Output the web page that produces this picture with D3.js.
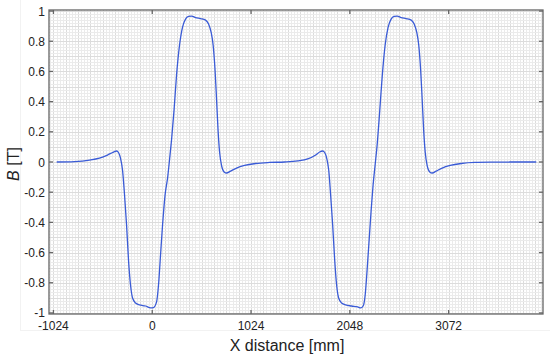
<!DOCTYPE html>
<html>
<head>
<meta charset="utf-8">
<script src="https://cdn.jsdelivr.net/npm/d3@7"></script>
<style>
  body { margin: 0; background: #fff; }
  text { font-family: "Liberation Sans", Arial, sans-serif; fill: #222; }
</style>
</head>
<body>
<svg width="550" height="358"></svg>
<script>
// x distance in mm, B in tesla
let xs = [-990, -806, -650, -547, -464, -401, -370, -350, -329, -308, -287, -266, -246, -225, -204,
    -173, -132, -69, -18, 13, 45, 65, 86, 107, 133, 159, 179, 200, 226, 252, 283, 314, 345, 376,
    408, 449, 501, 553, 584, 610, 631, 651, 667, 682, 698, 719, 745, 770, 812, 874, 957, 1071,
    1216, 1372, 1507, 1611, 1694, 1735, 1766, 1787, 1808, 1829, 1849, 1870, 1891, 1911, 1932,
    1963, 2005, 2067, 2129, 2160, 2186, 2207, 2227, 2248, 2269, 2289, 2310, 2331, 2357, 2383,
    2414, 2445, 2476, 2507, 2539, 2580, 2632, 2684, 2715, 2741, 2762, 2782, 2798, 2813, 2829,
    2850, 2876, 2902, 2943, 3005, 3088, 3202, 3342, 3550, 3809, 3980]
let bs = [0, 0.003, 0.013, 0.026, 0.046, 0.066, 0.073, 0.063, 0.026, -0.053, -0.219, -0.417, -0.649,
    -0.815, -0.901, -0.934, -0.947, -0.954, -0.967, -0.964, -0.927, -0.815, -0.616, -0.417, -0.219,
    -0.106, 0.013, 0.146, 0.344, 0.576, 0.775, 0.894, 0.947, 0.964, 0.967, 0.957, 0.950, 0.940,
    0.914, 0.861, 0.775, 0.609, 0.411, 0.212, 0.066, -0.026, -0.066, -0.073, -0.060, -0.040, -0.023,
    -0.010, -0.003, 0, 0.007, 0.020, 0.046, 0.066, 0.073, 0.063, 0.026, -0.053, -0.219, -0.417,
    -0.649, -0.815, -0.901, -0.934, -0.947, -0.954, -0.960, -0.967, -0.954, -0.881, -0.715, -0.517,
    -0.318, -0.152, -0.020, 0.113, 0.331, 0.563, 0.775, 0.894, 0.947, 0.964, 0.967, 0.957, 0.950,
    0.940, 0.914, 0.861, 0.775, 0.609, 0.411, 0.212, 0.066, -0.026, -0.066, -0.073, -0.060, -0.040,
    -0.023, -0.010, -0.003, -0.001, 0, 0]
let xTicks = [-1024, 0, 1024, 2048, 3072]
let yTicks = [-1, -0.8, -0.6, -0.4, -0.2, 0, 0.2, 0.4, 0.6, 0.8, 1]

let data = xs.map((d, i) => ({ x: d, b: bs[i] }))

let plotLeft = 49, plotRight = 543, plotTop = 10, plotBottom = 314

let x = d3.scaleLinear().domain([-1070, 4050]).range([plotLeft, plotRight])
let y = d3.scaleLinear().domain([-1.007, 1.007]).range([plotBottom, plotTop])

let svg = d3.select("svg")

// faint outer frame
svg.append("rect")
    .attr("x", 20.5).attr("y", -1).attr("width", 540).attr("height", 331.5)
    .attr("fill", "none").attr("stroke", "#f2f2f2")

// fine grid
let grid = svg.append("g")
d3.range(-1056, 4050, 32).forEach(v => {
    let px = Math.round(x(v)) + 0.5
    if (px <= plotLeft || px >= plotRight) return
    grid.append("line")
        .attr("x1", px).attr("x2", px).attr("y1", plotTop).attr("y2", plotBottom)
        .attr("stroke", (v % 128 === 0) ? "#dcdcdc" : "#ebebeb")
})
d3.range(-50, 51).forEach(k => {
    let py = Math.round(y(k * 0.02)) + 0.5
    if (py <= plotTop || py >= plotBottom) return
    grid.append("line")
        .attr("x1", plotLeft).attr("x2", plotRight).attr("y1", py).attr("y2", py)
        .attr("stroke", (k % 5 === 0) ? "#dcdcdc" : "#ebebeb")
})

// curve
let line = d3.line()
    .curve(d3.curveMonotoneX)
    .x(d => x(d.x))
    .y(d => y(d.b))

svg.append("path")
    .datum(data)
    .attr("d", line)
    .attr("fill", "none")
    .attr("stroke", "#3a5bd6")
    .attr("stroke-width", 1.3)

// frame and inward ticks
let frame = svg.append("g").attr("stroke", "#666").attr("stroke-width", 1.3)
frame.append("rect")
    .attr("x", plotLeft).attr("y", plotTop)
    .attr("width", plotRight - plotLeft).attr("height", plotBottom - plotTop)
    .attr("fill", "none")
xTicks.forEach(v => {
    let px = x(v)
    frame.append("line").attr("x1", px).attr("x2", px).attr("y1", plotBottom).attr("y2", plotBottom - 4)
    frame.append("line").attr("x1", px).attr("x2", px).attr("y1", plotTop).attr("y2", plotTop + 4)
})
yTicks.forEach(v => {
    let py = y(v)
    frame.append("line").attr("x1", plotLeft).attr("x2", plotLeft + 4).attr("y1", py).attr("y2", py)
    frame.append("line").attr("x1", plotRight).attr("x2", plotRight - 4).attr("y1", py).attr("y2", py)
})

// tick labels
svg.append("g").selectAll("text")
    .data(xTicks)
    .join("text")
    .attr("x", d => x(d))
    .attr("y", 330)
    .attr("text-anchor", "middle")
    .style("font-size", "12px")
    .text(d => d)

svg.append("g").selectAll("text")
    .data(yTicks)
    .join("text")
    .attr("x", 45)
    .attr("y", d => y(d) + 4.5)
    .attr("text-anchor", "end")
    .style("font-size", "12px")
    .text(d => d)

// axis titles
svg.append("text")
    .attr("x", 287)
    .attr("y", 351)
    .attr("text-anchor", "middle")
    .style("font-size", "16px")
    .text("X distance [mm]")

let yt = svg.append("text")
    .attr("transform", "translate(19,164) rotate(-90)")
    .attr("text-anchor", "middle")
    .style("font-size", "16px")
yt.append("tspan").style("font-style", "italic").text("B")
yt.append("tspan").text(" [T]")
</script>
</body>
</html>
